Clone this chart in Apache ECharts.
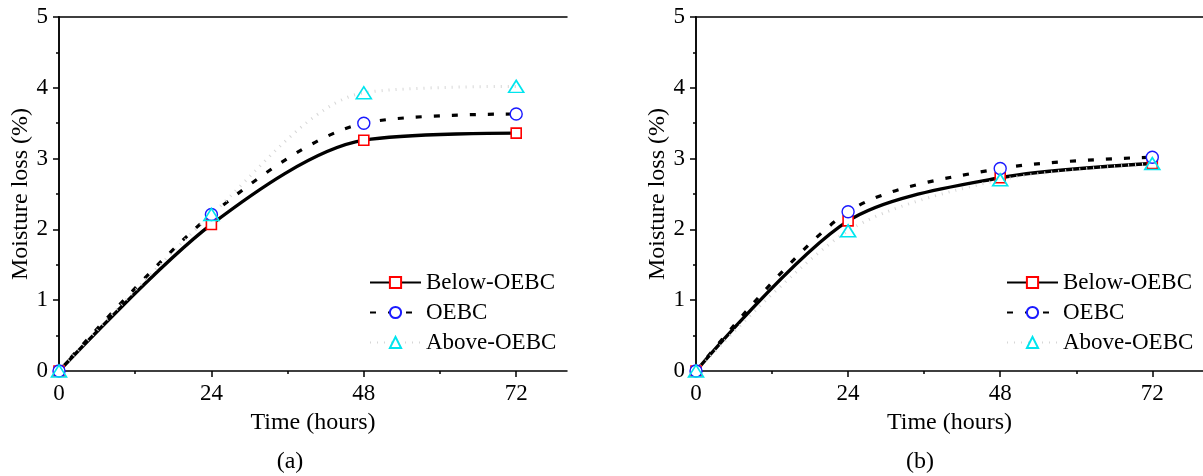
<!DOCTYPE html>
<html>
<head>
<meta charset="utf-8">
<title>Moisture loss</title>
<script src="https://cdn.jsdelivr.net/npm/echarts@6/dist/echarts.min.js"></script>
<style>
  html, body { margin: 0; padding: 0; background: #fff; }
</style>
</head>
<body>
<div id="main" style="width:1203px;height:476px;"></div>
<script type="text/javascript">
// data
var hours = [0, 24, 48, 72];
var majorTicks = [0, 24, 48, 72];
var minorTicks = [12, 36, 60];
var seriesNames = ['Below-OEBC', 'OEBC', 'Above-OEBC'];

// (a)
var aBelow = [0, 2.07, 3.26, 3.36];
var aOebc  = [0, 2.21, 3.50, 3.63];
var aAbove = [0, 2.21, 3.93, 4.02];
// (b)
var bBelow = [0, 2.12, 2.73, 2.93];
var bOebc  = [0, 2.25, 2.86, 3.02];
var bAbove = [0, 1.98, 2.70, 2.93];

var FONT = 'Liberation Serif';
var FS = 23;
var SMOOTH = 0.3;

function pairs(ys) {
    return hours.map(function (h, i) { return [h, ys[i]]; });
}

var grids = [
    { left: 59, top: 17, width: 508, height: 354 },
    { left: 696, top: 17, width: 507, height: 354 }
];

var xAxes = [], yAxes = [];
grids.forEach(function (g, gi) {
    // main bottom axis
    xAxes.push({
        gridIndex: gi, type: 'value', position: 'bottom', min: 0, max: 80,
        name: 'Time (hours)', nameLocation: 'middle', nameGap: 40,
        nameTextStyle: { fontFamily: FONT, fontSize: 24, color: '#000' },
        axisLine: { lineStyle: { color: '#000', width: 1.5 } },
        axisTick: { customValues: majorTicks, length: 6, lineStyle: { color: '#000', width: 1.5 } },
        axisLabel: { customValues: majorTicks, margin: 11, fontFamily: FONT, fontSize: FS, color: '#000' },
        splitLine: { show: false }
    });
    // minor ticks
    xAxes.push({
        gridIndex: gi, type: 'value', position: 'bottom', min: 0, max: 80,
        axisLine: { show: false },
        axisTick: { customValues: minorTicks, length: 3, lineStyle: { color: '#000', width: 1.5 } },
        axisLabel: { show: false },
        splitLine: { show: false }
    });
    // top border
    xAxes.push({
        gridIndex: gi, type: 'value', position: 'top', min: 0, max: 80,
        axisLine: { lineStyle: { color: '#000', width: 1.5 } },
        axisTick: { show: false }, axisLabel: { show: false }, splitLine: { show: false }
    });
    yAxes.push({
        gridIndex: gi, type: 'value', position: 'left', min: 0, max: 5, interval: 1,
        name: 'Moisture loss (%)', nameLocation: 'middle', nameGap: 26,
        nameTextStyle: { fontFamily: FONT, fontSize: 24, color: '#000' },
        axisLine: { show: true, lineStyle: { color: '#000', width: 1.5 } },
        axisTick: { show: true, length: 6, lineStyle: { color: '#000', width: 1.5 } },
        minorTick: { show: true, splitNumber: 2, length: 3, lineStyle: { color: '#000', width: 1.5 } },
        axisLabel: { margin: 11, fontFamily: FONT, fontSize: FS, color: '#000' },
        splitLine: { show: false }
    });
    yAxes.push({
        gridIndex: gi, type: 'value', position: 'right', min: 0, max: 5,
        axisLine: { show: true, lineStyle: { color: '#000', width: 1.5 } },
        axisTick: { show: false }, axisLabel: { show: false }, splitLine: { show: false }
    });
});

function below(gi, ys) {
    return {
        name: seriesNames[0], type: 'line', xAxisIndex: gi * 3, yAxisIndex: gi * 2,
        data: pairs(ys), smooth: SMOOTH,
        symbol: 'rect', symbolSize: 10,
        itemStyle: { color: '#fff', borderColor: '#ff0000', borderWidth: 1.6 },
        lineStyle: { color: '#000', width: 3.4 }
    };
}
function oebc(gi, ys) {
    return {
        name: seriesNames[1], type: 'line', xAxisIndex: gi * 3, yAxisIndex: gi * 2,
        data: pairs(ys), smooth: SMOOTH,
        symbol: 'circle', symbolSize: 12,
        itemStyle: { color: '#fff', borderColor: '#1a1aff', borderWidth: 1.4 },
        lineStyle: { color: '#000', width: 3.2, type: [6, 12] }
    };
}
function above(gi, ys) {
    return {
        name: seriesNames[2], type: 'line', xAxisIndex: gi * 3, yAxisIndex: gi * 2,
        data: pairs(ys), smooth: SMOOTH,
        symbol: 'triangle', symbolSize: [15, 12],
        itemStyle: { color: 'rgba(255,255,255,0)', borderColor: '#00e5ee', borderWidth: 1.6 },
        lineStyle: { color: '#d6d6d6', width: 3, type: [1, 6] }
    };
}

function legendAt(left) {
    return {
        orient: 'vertical', left: left, top: 266,
        itemWidth: 51, itemHeight: 14, itemGap: 7,
        data: seriesNames,
        textStyle: { fontFamily: FONT, fontSize: 23, color: '#000' },
        selectedMode: false
    };
}

var myChart = echarts.init(document.getElementById('main'));
myChart.setOption({
    animation: false,
    grid: grids,
    xAxis: xAxes,
    yAxis: yAxes,
    legend: [legendAt(364), legendAt(1001)],
    series: [
        below(0, aBelow), oebc(0, aOebc), above(0, aAbove),
        below(1, bBelow), oebc(1, bOebc), above(1, bAbove)
    ],
    graphic: [
        { type: 'text', x: 290, y: 462, style: { text: '(a)', font: '24px "' + FONT + '"', fill: '#000', align: 'center', verticalAlign: 'middle' } },
        { type: 'text', x: 920, y: 462, style: { text: '(b)', font: '24px "' + FONT + '"', fill: '#000', align: 'center', verticalAlign: 'middle' } }
    ]
});
</script>
</body>
</html>
